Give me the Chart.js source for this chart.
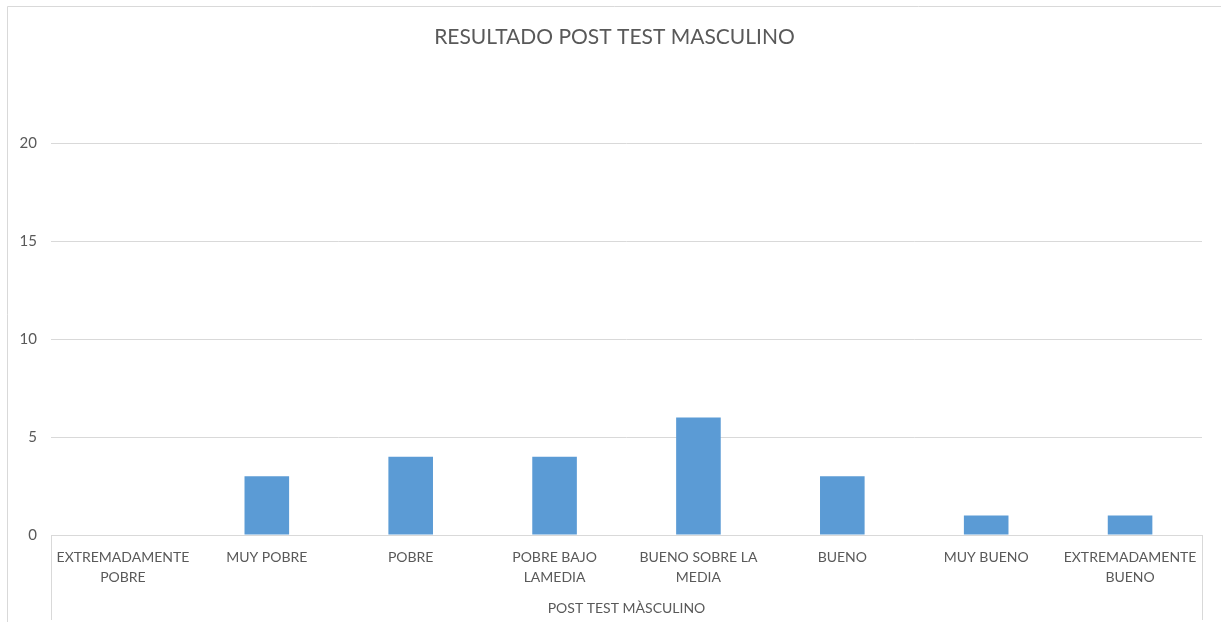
<!DOCTYPE html>
<html>
<head>
<meta charset="utf-8">
<script src="https://cdn.jsdelivr.net/npm/chart.js@4.4.1/dist/chart.umd.min.js"></script>
<style>
html,body{margin:0;padding:0;background:#fff;}
#wrap{width:1221px;height:622px;position:relative;}
</style>
</head>
<body>
<div id="wrap"><canvas id="c" width="1221" height="622"></canvas></div>
<script>
const chartTitle = "RESULTADO POST TEST MASCULINO";
const groupLabel = "POST TEST MÀSCULINO";
const categories = [
  ["EXTREMADAMENTE", "POBRE"],
  ["MUY POBRE"],
  ["POBRE"],
  ["POBRE BAJO", "LAMEDIA"],
  ["BUENO SOBRE LA", "MEDIA"],
  ["BUENO"],
  ["MUY BUENO"],
  ["EXTREMADAMENTE", "BUENO"]
];
const values = [0, 3, 4, 4, 6, 3, 1, 1];
const yTicks = [0, 5, 10, 15, 20];

const textColor = "#595959";
const gridColor = "#d9d9d9";
const fontFamily = "Lato, 'Open Sans', sans-serif";

const framePlugin = {
  id: "frame",
  beforeDraw(chart) {
    const ctx = chart.ctx;
    ctx.save();
    ctx.fillStyle = "#fff";
    ctx.fillRect(0, 0, chart.width, chart.height);
    ctx.strokeStyle = gridColor;
    ctx.lineWidth = 1;
    ctx.beginPath();
    ctx.moveTo(7.5, chart.height + 2);
    ctx.lineTo(7.5, 6.5);
    ctx.lineTo(chart.width + 2, 6.5);
    ctx.stroke();
    ctx.restore();
  },
  afterDraw(chart) {
    const ctx = chart.ctx;
    const a = chart.chartArea;
    const xs = chart.scales.x;
    ctx.save();
    ctx.strokeStyle = gridColor;
    ctx.lineWidth = 1;
    ctx.beginPath();
    [a.left, a.right].forEach(x => {
      const px = Math.round(x) + 0.5;
      ctx.moveTo(px, a.bottom);
      ctx.lineTo(px, xs.bottom - 2);
    });
    ctx.stroke();
    ctx.restore();
  }
};

new Chart(document.getElementById("c"), {
  type: "bar",
  data: {
    labels: categories,
    datasets: [{
      label: groupLabel,
      data: values,
      backgroundColor: "#5B9BD5",
      borderWidth: 0,
      categoryPercentage: 1.0,
      barPercentage: 0.31
    }]
  },
  options: {
    responsive: false,
    animation: false,
    devicePixelRatio: 1,
    layout: { padding: { left: 8, right: 0, top: 25, bottom: 0 } },
    plugins: {
      legend: { display: false },
      tooltip: { enabled: false },
      title: {
        display: true,
        text: chartTitle,
        color: textColor,
        font: { family: fontFamily, size: 21, weight: "normal" },
        padding: { top: 0, bottom: 93 }
      }
    },
    scales: {
      x: {
        grid: { display: false, drawTicks: false },
        border: { display: true, color: gridColor, width: 1 },
        ticks: {
          color: textColor,
          font: { family: fontFamily, size: 14, lineHeight: 1.43 },
          padding: 12,
          maxRotation: 0,
          minRotation: 0,
          autoSkip: false
        },
        title: {
          display: true,
          text: groupLabel,
          color: textColor,
          font: { family: fontFamily, size: 14 },
          padding: { top: 0, bottom: 5 }
        },
        afterFit(scale) { scale.height = 87; }
      },
      y: {
        min: 0,
        max: 20,
        afterBuildTicks(scale) { scale.ticks = yTicks.map(v => ({ value: v })); },
        grid: { color: gridColor, drawTicks: false },
        border: { display: false },
        ticks: {
          color: textColor,
          font: { family: fontFamily, size: 15 },
          padding: 14
        },
        afterFit(scale) { scale.width = 43; }
      },
      yRight: {
        type: "linear",
        position: "right",
        min: 0,
        max: 20,
        grid: { display: false, drawTicks: false },
        border: { display: false },
        ticks: { display: false },
        afterFit(scale) { scale.width = 19; }
      }
    }
  },
  plugins: [framePlugin]
});
</script>
</body>
</html>
